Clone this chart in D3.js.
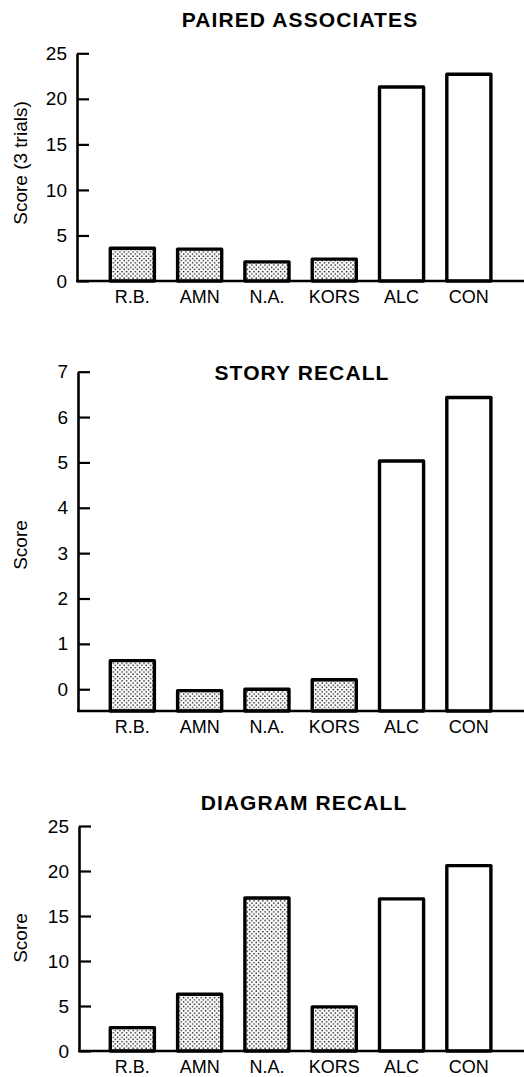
<!DOCTYPE html>
<html>
<head>
<meta charset="utf-8">
<script src="https://cdn.jsdelivr.net/npm/d3@7"></script>
<style>
  html, body { margin: 0; padding: 0; background: #fff; }
  svg { display: block; }
  text { font-family: "Liberation Sans", Arial, Helvetica, sans-serif; fill: #000; }
</style>
</head>
<body>
<svg id="chart" width="524" height="1077"></svg>
<script>
// ---- data ----
const categories = ["R.B.", "AMN", "N.A.", "KORS", "ALC", "CON"];
const groups = ["patient", "patient", "patient", "patient", "control", "control"];

const pairedTitle = "PAIRED ASSOCIATES";
const pairedYLabel = "Score (3 trials)";
const pairedValues = [3.6, 3.5, 2.1, 2.4, 21.3, 22.7];
const pairedTicks = [0, 5, 10, 15, 20, 25];

const storyTitle = "STORY RECALL";
const storyYLabel = "Score";
const storyValues = [0.63, -0.03, 0.0, 0.21, 5.03, 6.43];
const storyTicks = [0, 1, 2, 3, 4, 5, 6, 7];

const diagramTitle = "DIAGRAM RECALL";
const diagramYLabel = "Score";
const diagramValues = [2.6, 6.3, 17.0, 4.9, 16.9, 20.6];
const diagramTicks = [0, 5, 10, 15, 20, 25];

// ---- layout ----
const svg = d3.select("#chart");
const W = 524;
const FONT = "Liberation Sans, Arial, Helvetica, sans-serif";

const defs = svg.append("defs");
const pat = defs.append("pattern")
  .attr("id", "stipple")
  .attr("patternUnits", "userSpaceOnUse")
  .attr("width", 4.4).attr("height", 4.4);
pat.append("rect").attr("width", 4.4).attr("height", 4.4).attr("fill", "#fff");
pat.append("rect").attr("x", 0.4).attr("y", 0.4).attr("width", 1.3).attr("height", 1.3).attr("fill", "#000");
pat.append("rect").attr("x", 2.6).attr("y", 2.6).attr("width", 1.3).attr("height", 1.3).attr("fill", "#000");

const x = d3.scaleBand()
  .domain(categories)
  .range([110.3, 490.9])
  .paddingInner(0.345)
  .paddingOuter(0);

const panels = [
  { title: pairedTitle, yLabel: pairedYLabel, values: pairedValues, ticks: pairedTicks,
    domain: [0, 25], range: [281, 53.3], axisX: 77, titleX: 300, titleY: 26.7, labelY: 163 },
  { title: storyTitle, yLabel: storyYLabel, values: storyValues, ticks: storyTicks,
    domain: [-0.48, 7], range: [711, 371.7], axisX: 78, titleX: 302, titleY: 380, labelY: 545 },
  { title: diagramTitle, yLabel: diagramYLabel, values: diagramValues, ticks: diagramTicks,
    domain: [0, 25], range: [1051, 826], axisX: 79, titleX: 304, titleY: 810, labelY: 938 }
];

panels.forEach(p => {
  const y = d3.scaleLinear().domain(p.domain).range(p.range);
  const g = svg.append("g");
  const base = p.range[0];

  // title
  g.append("text")
    .attr("x", p.titleX).attr("y", p.titleY)
    .attr("text-anchor", "middle")
    .attr("font-size", 21).attr("font-weight", "bold")
    .attr("letter-spacing", 1.1)
    .text(p.title);

  // y label
  g.append("text")
    .attr("transform", `translate(27,${p.labelY}) rotate(-90)`)
    .attr("text-anchor", "middle")
    .attr("font-size", 19)
    .text(p.yLabel);

  // bars
  g.selectAll("rect.bar")
    .data(categories.map((c, i) => ({ c, v: p.values[i], grp: groups[i] })))
    .join("rect")
    .attr("class", "bar")
    .attr("x", d => x(d.c))
    .attr("width", x.bandwidth())
    .attr("y", d => y(d.v))
    .attr("height", d => base - y(d.v))
    .attr("fill", d => d.grp === "patient" ? "url(#stipple)" : "#fff")
    .attr("stroke", "#000")
    .attr("stroke-width", 3.4)
    .attr("stroke-linejoin", "round");

  // y axis
  const ya = g.append("g")
    .attr("transform", `translate(${p.axisX},0)`)
    .call(d3.axisLeft(y).tickValues(p.ticks).tickSizeInner(-12).tickSizeOuter(0).tickPadding(10).tickFormat(d3.format("d")));
  ya.attr("font-family", FONT).attr("font-size", 19);
  ya.select(".domain").attr("stroke", "#000").attr("stroke-width", 2.6);
  ya.selectAll(".tick line").attr("stroke", "#000").attr("stroke-width", 2.2);
  ya.selectAll(".tick text").attr("fill", "#000");

  // x axis
  g.append("line")
    .attr("x1", p.axisX - 1).attr("x2", W)
    .attr("y1", base).attr("y2", base)
    .attr("stroke", "#000").attr("stroke-width", 2.6);
  const xa = g.append("g")
    .attr("transform", `translate(0,${base})`)
    .call(d3.axisBottom(x).tickSize(0).tickPadding(9));
  xa.attr("font-family", FONT).attr("font-size", 18);
  xa.select(".domain").remove();
  xa.selectAll(".tick text").attr("fill", "#000");
});
</script>
</body>
</html>
